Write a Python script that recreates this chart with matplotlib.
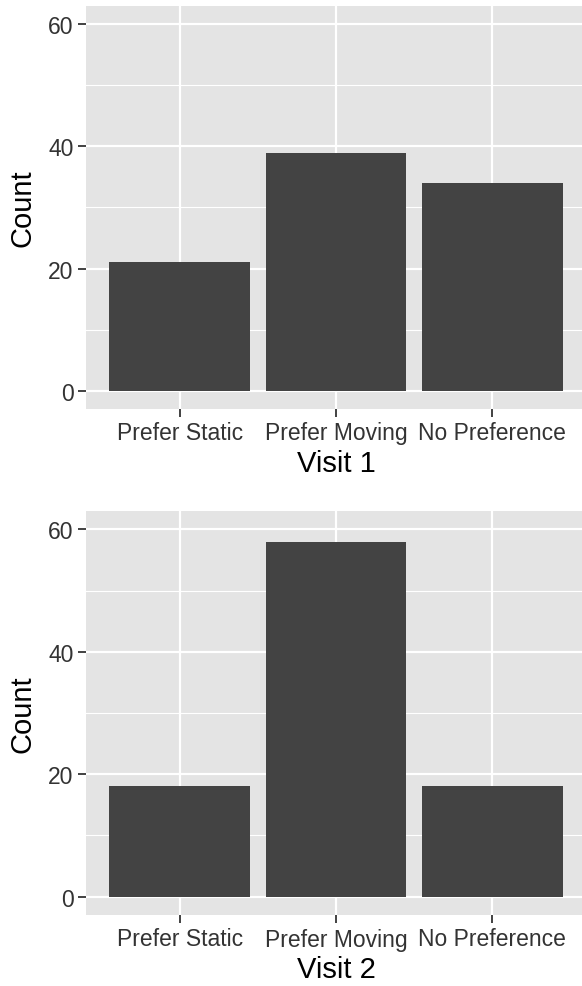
import matplotlib
matplotlib.use("Agg")
import matplotlib.pyplot as plt
from matplotlib.ticker import MultipleLocator

plt.rcParams['font.family'] = ['Liberation Sans', 'DejaVu Sans']

categories = ["Prefer Static", "Prefer Moving", "No Preference"]
visit1 = [21, 39, 34]
visit2 = [18, 58, 18]
titles = ["Visit 1", "Visit 2"]
yticks = [0, 20, 40, 60]

W, H = 582, 987
fig = plt.figure(figsize=(W / 100, H / 100), dpi=100)

bg = "#E4E4E4"
bar_color = "#434343"
tick_col = "#333333"

# axes boxes in pixel coords: left, top, right, bottom
boxes = [(86, 7, 586, 410), (86, 512, 586, 916)]

for (l, t, r, b), vals, title in zip(boxes, [visit1, visit2], titles):
    ax = fig.add_axes([l / W, 1 - b / H, (r - l) / W, (b - t) / H])
    ax.set_facecolor(bg)
    x = list(range(1, len(categories) + 1))
    ax.bar(x, vals, width=0.9, color=bar_color, zorder=3)
    ax.set_xlim(0.4, 3.6)
    ax.set_ylim(-3, 63)
    ax.set_yticks(yticks)
    ax.yaxis.set_minor_locator(MultipleLocator(10))
    ax.set_xticks(x)
    ax.set_xticklabels(categories)
    ax.grid(True, which='major', color='white', linewidth=1.6, zorder=1)
    ax.grid(True, which='minor', axis='y', color='white', linewidth=0.8, zorder=1)
    ax.tick_params(which='minor', length=0)
    ax.tick_params(which='major', length=5.5, width=1.3, color=tick_col,
                   labelsize=16.5, labelcolor=tick_col, pad=3.5)
    for s in ax.spines.values():
        s.set_visible(False)
    ax.set_xlabel(title, fontsize=21, color='black', labelpad=3)
    ax.set_ylabel("Count", fontsize=21, color='black', labelpad=8)

fig.savefig("out.png", dpi=100)
